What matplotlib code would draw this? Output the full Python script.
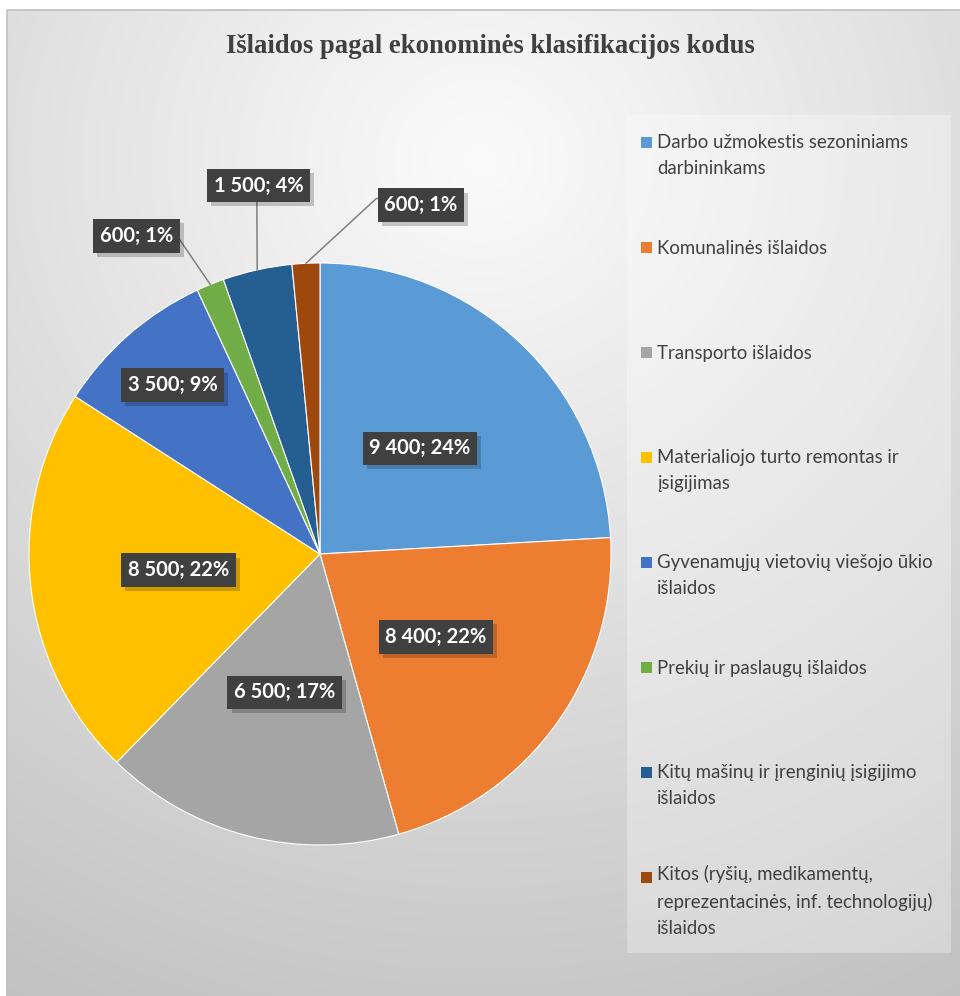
import numpy as np
import matplotlib.pyplot as plt
from matplotlib.patches import Rectangle
import matplotlib.patheffects as pe

#%% data
title = 'Išlaidos pagal ekonominės klasifikacijos kodus'
categories = ['Darbo užmokestis sezoniniams\ndarbininkams',
              'Komunalinės išlaidos',
              'Transporto išlaidos',
              'Materialiojo turto remontas ir\nįsigijimas',
              'Gyvenamųjų vietovių viešojo ūkio\nišlaidos',
              'Prekių ir paslaugų išlaidos',
              'Kitų mašinų ir įrenginių įsigijimo\nišlaidos',
              'Kitos (ryšių, medikamentų,\nreprezentacinės, inf. technologijų)\nišlaidos']
values = [9400, 8400, 6500, 8500, 3500, 600, 1500, 600]
percents = [24, 22, 17, 22, 9, 1, 4, 1]
colors = ['#5B9BD5', '#ED7D31', '#A5A5A5', '#FFC000',
          '#4472C4', '#70AD47', '#255E91', '#9E480E']

#%% layout (pixels of the 960x996 picture)
W, H = 960, 996
cx, cy, R = 320, 554, 291
# radial distance of the inside labels, None = outside label with leader line
label_r = [0.50, 0.49, 0.49, 0.49, 0.77, None, None, None]
# outside label box centres (in pie radius units) and where the leader leaves the box
outside = {5: ((-0.631, 1.093), (1.0, 0.8), 'arc3,rad=0'),
           6: ((-0.211, 1.266), (0.48, 0.0), 'arc3,rad=0'),
           7: ((0.347, 1.199), (0.0, 0.83), 'arc,angleA=180,armA=8,angleB=0,armB=0,rad=0')}
line_pitch = 25

fig = plt.figure(figsize=(W / 100, H / 100), dpi=100)
fig.patch.set_facecolor('white')

# background with a soft radial gradient
bg = fig.add_axes([0, 0, 1, 1], zorder=-10)
bg.set_xlim(0, W)
bg.set_ylim(H, 0)
bg.axis('off')
yy, xx = np.mgrid[10:H, 7:W]
d = np.hypot(xx - 480, (yy - 160) * 1.05)
v = np.clip(251 - 56 * d / 970, 0, 255) / 255
bg.imshow(np.dstack([v, v, v]), extent=[7, W, H, 10], aspect='auto', interpolation='bilinear')
bg.plot([7, 7, W], [H, 10, 10], color='#BFBFBF', lw=1.2)
bg.add_patch(Rectangle((627, 115), 324, 838, fc='white', ec='none', alpha=0.3))

bg.text(490, 46, title, ha='center', va='center', fontsize=19.2, fontweight='bold',
        family='Liberation Serif', color='#404040')

# legend drawn by hand so every entry starts at the same pitch
for i, (lab, col) in enumerate(zip(categories, colors)):
    yb = 149 + 105 * i
    nl = lab.count('\n')
    bg.add_patch(Rectangle((641, yb - 12), 11, 11, fc=col, ec='none'))
    bg.text(657, yb + nl * line_pitch, lab, ha='left', va='baseline', fontsize=13.4,
            family='Lato', color='#404040', linespacing=1.66)

#%% pie
ax = fig.add_axes([(cx - R) / W, (H - cy - R) / H, 2 * R / W, 2 * R / H])
wedges, _ = ax.pie(values, colors=colors, startangle=90, counterclock=False,
                   wedgeprops=dict(edgecolor='white', linewidth=0.8))
ax.set_xlim(-1, 1)
ax.set_ylim(-1, 1)
ax.set_aspect('equal')

box = dict(boxstyle='square,pad=0.33', fc='#404040', ec='none')
shadow = [pe.SimplePatchShadow(offset=(3, -3), shadow_rgbFace='black', alpha=0.2),
          pe.Normal()]
for i, w in enumerate(wedges):
    ang = np.deg2rad((w.theta1 + w.theta2) / 2)
    txt = '{:,}; {}%'.format(values[i], percents[i]).replace(',', ' ')
    if label_r[i] is not None:
        t = ax.text(label_r[i] * np.cos(ang), label_r[i] * np.sin(ang), txt,
                    ha='center', va='center', color='white', fontsize=14.5,
                    fontweight='bold', family='Lato', bbox=box)
    else:
        pos, rel, conn = outside[i]
        t = ax.annotate(txt, xy=(np.cos(ang), np.sin(ang)), xytext=pos,
                        ha='center', va='center', color='white', fontsize=14.5,
                        fontweight='bold', family='Lato', bbox=box,
                        arrowprops=dict(arrowstyle='-', color='#7f7f7f', lw=1.1,
                                        relpos=rel, connectionstyle=conn,
                                        shrinkA=0, shrinkB=0))
    t.get_bbox_patch().set_path_effects(shadow)

fig.savefig('out.png', dpi=100)
